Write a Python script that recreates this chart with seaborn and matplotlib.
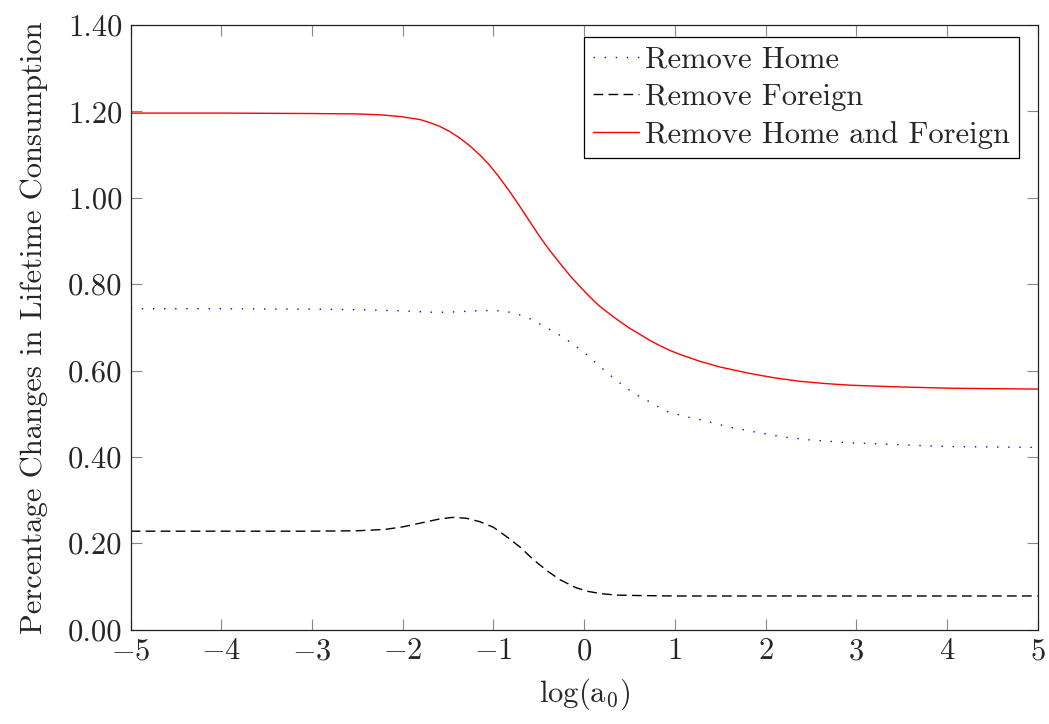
import pandas as pd
import numpy as np
import matplotlib
matplotlib.use('Agg')
import matplotlib.pyplot as plt
import seaborn as sns

# values
home_x = [-5, -4, -3, -2.5, -2.0, -1.7, -1.5, -1.3, -1.1, -0.9, -0.75, -0.6, -0.45, -0.3,
          -0.19, 0.0, 0.17, 0.35, 0.54, 0.7, 0.9, 1.1, 1.3, 1.6, 1.9, 2.2, 2.5, 2.9,
          3.5, 4.0, 4.5, 5.0]
home_y = [0.743, 0.743, 0.742, 0.741, 0.738, 0.735, 0.735, 0.737, 0.739, 0.738, 0.732, 0.720,
          0.703, 0.686, 0.671, 0.642, 0.610, 0.578, 0.548, 0.530, 0.506, 0.494, 0.485, 0.469,
          0.457, 0.446, 0.439, 0.433, 0.428, 0.424, 0.423, 0.422]

foreign_x = [-5, -4, -3, -2.5, -2.2, -2.0, -1.8, -1.6, -1.45, -1.3, -1.15, -1.0, -0.86, -0.7,
             -0.56, -0.4, -0.27, -0.1, 0.03, 0.2, 0.36, 0.6, 1, 2, 3, 4, 5]
foreign_y = [0.228, 0.228, 0.228, 0.229, 0.232, 0.238, 0.247, 0.256, 0.260, 0.258, 0.250, 0.237,
             0.216, 0.190, 0.162, 0.135, 0.116, 0.098, 0.089, 0.083, 0.080, 0.079, 0.078,
             0.078, 0.078, 0.078, 0.078]

both_x = [-5, -4, -3, -2.5, -2.25, -2.03, -1.81, -1.7, -1.59, -1.48, -1.37, -1.26, -1.15,
          -1.05, -0.95, -0.83, -0.71, -0.6, -0.49, -0.38, -0.27, -0.15, -0.05, 0.06, 0.17,
          0.28, 0.39, 0.5, 0.62, 0.73, 0.84, 0.95, 1.06, 1.28, 1.5, 1.83, 2.1, 2.38, 2.65,
          2.93, 3.2, 3.48, 4.04, 4.5, 5.0]
both_y = [1.196, 1.196, 1.195, 1.194, 1.192, 1.188, 1.181, 1.174, 1.165, 1.153, 1.138, 1.120,
          1.099, 1.077, 1.051, 1.017, 0.980, 0.945, 0.910, 0.878, 0.849, 0.818, 0.795, 0.771,
          0.749, 0.731, 0.714, 0.698, 0.683, 0.669, 0.657, 0.646, 0.637, 0.621, 0.608, 0.593,
          0.583, 0.575, 0.570, 0.566, 0.564, 0.562, 0.559, 0.558, 0.557]

sns.set_theme(style='ticks')
plt.rcParams['font.family'] = ['cmr10', 'DejaVu Serif']
plt.rcParams['mathtext.fontset'] = 'cm'
plt.rcParams['axes.formatter.use_mathtext'] = True
plt.rcParams['axes.unicode_minus'] = True

fig = plt.figure(figsize=(10.49, 7.24), dpi=100)
ax = fig.add_axes([0.1246, 0.1303, 0.9892 - 0.1246, 0.9655 - 0.1303])

sns.lineplot(x=home_x, y=home_y, ax=ax, color='blue', lw=1.0, linestyle=(0, (1, 7)),
             label='Remove Home')
sns.lineplot(x=foreign_x, y=foreign_y, ax=ax, color='black', lw=1.0, linestyle=(0, (7, 3.8)),
             label='Remove Foreign')
sns.lineplot(x=both_x, y=both_y, ax=ax, color='red', lw=1.0, label='Remove Home and Foreign')

ax.set_xlim(-5, 5)
ax.set_ylim(0, 1.4)
ax.set_xticks(range(-5, 6))
ax.set_yticks(np.arange(0, 1.41, 0.2))
ax.yaxis.set_major_formatter(matplotlib.ticker.FormatStrFormatter('%.2f'))
ax.tick_params(direction='in', length=8, width=0.8, color='#888888', labelsize=22,
               top=True, right=True, pad=6)
for s in ax.spines.values():
    s.set_linewidth(0.9)
    s.set_color('#222222')

ax.set_xlabel(r'$\mathrm{log(a_0)}$', fontsize=22, labelpad=8)
ax.set_ylabel('Percentage Changes in Lifetime Consumption', fontsize=22, labelpad=14)

leg = ax.legend(loc='upper right', bbox_to_anchor=(1019 / 1049, 1 - 37 / 724),
                bbox_transform=fig.transFigure, borderaxespad=0, fontsize=22,
                handlelength=1.5, handletextpad=0.2, labelspacing=0.33,
                borderpad=0.3, fancybox=False, framealpha=1)
leg.get_frame().set_edgecolor('black')
leg.get_frame().set_linewidth(0.9)

fig.savefig('out.png', dpi=100)
